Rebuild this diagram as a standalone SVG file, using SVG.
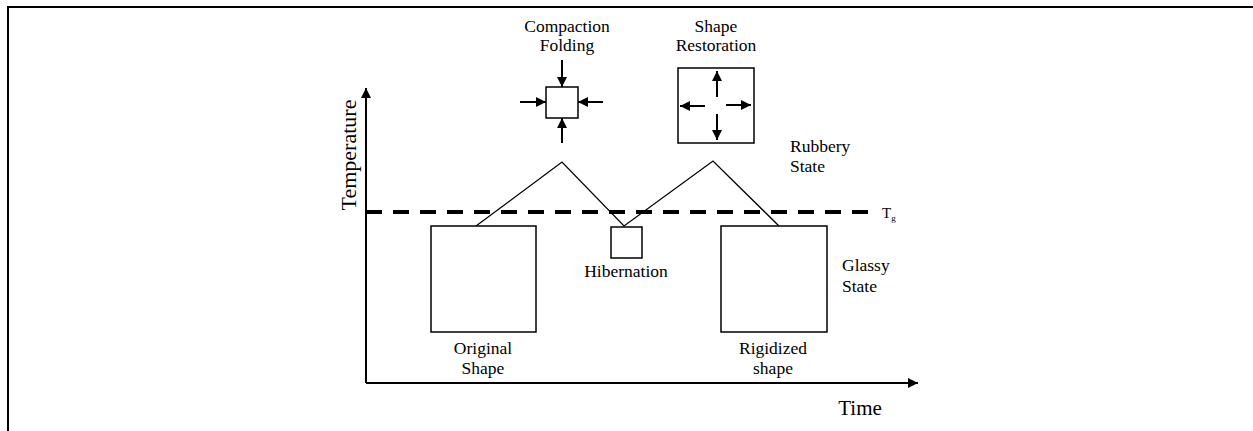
<svg xmlns="http://www.w3.org/2000/svg" width="1253" height="431" viewBox="0 0 1253 431" font-family="'Liberation Serif', 'Times New Roman', serif" font-size="17.5">
<style>
text{font-family:'Liberation Serif','Times New Roman',serif;fill:#000}
.lbl{text-anchor:middle}
.box{fill:#fff;stroke:#000;stroke-width:1.5}
.ln{fill:none;stroke:#000;stroke-width:1.3}
.arr{fill:none;stroke:#000;stroke-width:2;marker-end:url(#ah)}
.axis{fill:none;stroke:#000;stroke-width:2;marker-end:url(#ah)}
</style>
<defs>
<marker id="ah" viewBox="0 0 10 10" refX="10" refY="5" markerWidth="5" markerHeight="5" markerUnits="strokeWidth" orient="auto">
<path d="M0,0 L10,5 L0,10 Z" fill="#000"/>
</marker>
</defs>
<rect width="1253" height="431" fill="#fff"/>
<g id="frame">
<path d="M8,431 V7 H1253" fill="none" stroke="#000" stroke-width="2"/>
</g>
<g id="axes">
<line class="axis" x1="366" y1="383" x2="366" y2="88"/>
<line class="axis" x1="366" y1="383" x2="918" y2="383"/>
<text x="349" y="155" class="lbl" font-size="22" transform="rotate(-90 349 155)" dy="7">Temperature</text>
<text x="860" y="415" class="lbl" font-size="21">Time</text>
</g>
<g id="tg-line">
<line x1="366" y1="212" x2="873" y2="212" stroke="#000" stroke-width="4" stroke-dasharray="16 11"/>
<text x="882" y="218" font-size="15">T<tspan font-size="9" dy="3">g</tspan></text>
</g>
<g id="connectors">
<polyline class="ln" points="476,226 562,162 624,226 713,161 779,226"/>
</g>
<g id="original-shape">
<rect class="box" x="431" y="226" width="105" height="106"/>
<text x="483" y="354" class="lbl">Original</text>
<text x="483" y="374" class="lbl">Shape</text>
</g>
<g id="compaction">
<text x="567" y="32" class="lbl">Compaction</text>
<text x="567" y="51" class="lbl">Folding</text>
<rect class="box" x="546" y="87" width="32" height="31"/>
<line class="arr" x1="562" y1="60" x2="562" y2="87"/>
<line class="arr" x1="562" y1="143" x2="562" y2="118"/>
<line class="arr" x1="520" y1="102" x2="546" y2="102"/>
<line class="arr" x1="603" y1="102" x2="578" y2="102"/>
</g>
<g id="hibernation">
<rect class="box" x="611" y="227" width="31" height="31"/>
<text x="626" y="277" class="lbl">Hibernation</text>
</g>
<g id="restoration">
<text x="716" y="32" class="lbl">Shape</text>
<text x="716" y="51" class="lbl">Restoration</text>
<rect class="box" x="678" y="68" width="76" height="75"/>
<line class="arr" x1="717" y1="97" x2="717" y2="71"/>
<line class="arr" x1="717" y1="114" x2="717" y2="140"/>
<line class="arr" x1="705" y1="106" x2="680" y2="106"/>
<line class="arr" x1="726" y1="105" x2="751" y2="105"/>
</g>
<g id="rubbery">
<text x="790" y="152">Rubbery</text>
<text x="790" y="172">State</text>
</g>
<g id="rigidized">
<rect class="box" x="721" y="226" width="106" height="106"/>
<text x="773" y="354" class="lbl">Rigidized</text>
<text x="773" y="374" class="lbl">shape</text>
</g>
<g id="glassy">
<text x="842" y="271">Glassy</text>
<text x="842" y="292">State</text>
</g>
</svg>
